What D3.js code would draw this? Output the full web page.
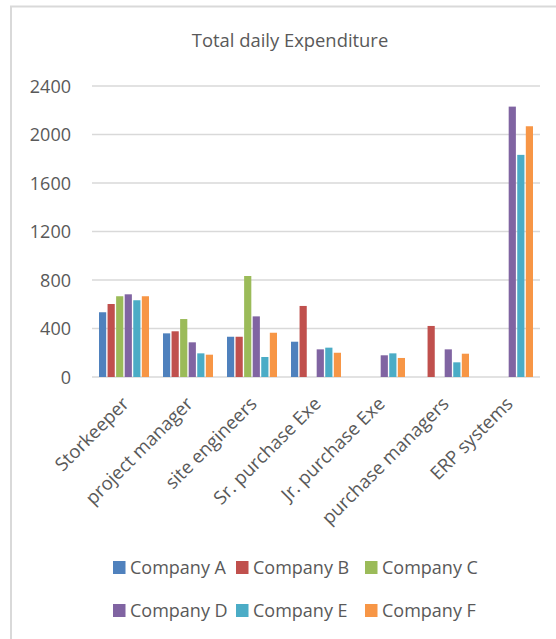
<!DOCTYPE html>
<html>
<head>
<meta charset="utf-8">
<script src="https://cdn.jsdelivr.net/npm/d3@7"></script>
<style>
  body { margin: 0; background: #fff; }
  text { font-family: "Open Sans", sans-serif; fill: #595959; }
</style>
</head>
<body>
<div id="chart"></div>
<script>
"use strict";

// categories along the x axis
var categories = ["Storkeeper", "project manager", "site engineers", "Sr. purchase Exe",
    "Jr. purchase Exe", "purchase managers", "ERP systems"];

var companies = ["Company A", "Company B", "Company C", "Company D", "Company E", "Company F"];

// one array per company, same order as categories (null = no bar)
var companyA = [534, 360, 332, 291, null, null, null];
var companyB = [602, 377, 332, 586, null, 421, null];
var companyC = [666, 478, 833, null, null, null, null];
var companyD = [682, 286, 500, 228, 179, 228, 2230];
var companyE = [633, 195, 165, 242, 195, 121, 1832];
var companyF = [666, 184, 365, 200, 157, 192, 2068];

var yTicks = [0, 400, 800, 1200, 1600, 2000, 2400];

var colors = ["#4F81BD", "#C0504D", "#9BBB59", "#8064A2", "#4BACC6", "#F79646"];

var series = [companyA, companyB, companyC, companyD, companyE, companyF];

var W = 556, H = 639;
var plot = { left: 92, right: 540, top: 86, bottom: 377 };

var svg = d3.select("#chart").append("svg")
    .attr("width", W)
    .attr("height", H);

// chart frame
svg.append("rect")
    .attr("x", 11)
    .attr("y", 6.5)
    .attr("width", 600)
    .attr("height", 700)
    .attr("fill", "none")
    .attr("stroke", "#d9d9d9")
    .attr("stroke-width", 2);

var x = d3.scaleBand()
    .domain(categories)
    .range([plot.left, plot.right]);

var inner = d3.scaleBand()
    .domain(d3.range(companies.length))
    .range([-25, 25])
    .paddingInner(0.16);

var y = d3.scaleLinear()
    .domain([0, 2400])
    .range([plot.bottom, plot.top]);

// gridlines
svg.append("g")
    .selectAll("line")
    .data(yTicks)
    .enter()
    .append("line")
    .attr("x1", plot.left)
    .attr("x2", plot.right)
    .attr("y1", function(d) { return y(d); })
    .attr("y2", function(d) { return y(d); })
    .attr("stroke", "#d9d9d9")
    .attr("stroke-width", 1.5);

// y axis labels
var yAxis = svg.append("g")
    .attr("transform", "translate(" + (plot.left - 21) + ",0)")
    .call(d3.axisLeft(y).tickValues(yTicks).tickFormat(d3.format("d")).tickSize(0).tickPadding(0));
yAxis.select(".domain").remove();
yAxis.selectAll("text")
    .style("font-family", "'Open Sans', sans-serif")
    .style("font-size", "18px")
    .attr("fill", "#595959")
    .attr("dy", "0.35em");

// bars
series.forEach(function(vals, si) {
    svg.append("g")
        .selectAll("rect")
        .data(vals.map(function(v, i) { return { cat: categories[i], v: v }; })
            .filter(function(d) { return d.v !== null; }))
        .enter()
        .append("rect")
        .attr("x", function(d) { return x(d.cat) + x.bandwidth() / 2 + inner(si); })
        .attr("width", inner.bandwidth())
        .attr("y", function(d) { return y(d.v); })
        .attr("height", function(d) { return y(0) - y(d.v); })
        .attr("fill", colors[si]);
});

// category labels, rotated
svg.append("g")
    .selectAll("text")
    .data(categories)
    .enter()
    .append("text")
    .attr("transform", function(d) {
        return "translate(" + (x(d) + x.bandwidth() / 2 + 6) + "," + (plot.bottom + 28) + ") rotate(-45)";
    })
    .attr("text-anchor", "end")
    .style("font-size", "18.5px")
    .text(function(d) { return d; });

// title
svg.append("text")
    .attr("x", 290)
    .attr("y", 47)
    .attr("text-anchor", "middle")
    .style("font-size", "18.4px")
    .text("Total daily Expenditure");

// legend
var legendPos = [[113, 561], [236, 561], [365, 561], [113, 604], [236, 604], [365, 604]];
var legend = svg.append("g")
    .selectAll("g")
    .data(companies)
    .enter()
    .append("g")
    .attr("transform", function(d, i) { return "translate(" + legendPos[i][0] + "," + legendPos[i][1] + ")"; });

legend.append("rect")
    .attr("width", 12.5)
    .attr("height", 13)
    .attr("fill", function(d, i) { return colors[i]; });

legend.append("text")
    .attr("x", 17)
    .attr("y", 13)
    .style("font-size", "18px")
    .text(function(d) { return d; });
</script>
</body>
</html>
